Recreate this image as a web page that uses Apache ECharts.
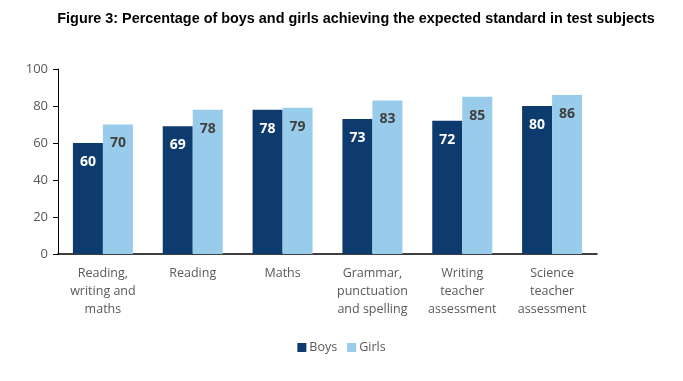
<!DOCTYPE html>
<html><head><meta charset="utf-8">
<script src="https://cdn.jsdelivr.net/npm/echarts@6/dist/echarts.min.js"></script>
<style>html,body{margin:0;padding:0;background:#fff}#c{width:683px;height:381px}</style>
</head><body><div id="c"></div>
<script>
const categories = ["Reading,\nwriting and\nmaths","Reading","Maths","Grammar,\npunctuation\nand spelling","Writing\nteacher\nassessment","Science\nteacher\nassessment"];
const boys = [60,69,78,73,72,80];
const girls = [70,78,79,83,85,86];
const yTicks = {min:0,max:100,interval:20};
const font = "Open Sans";
const chart = echarts.init(document.getElementById('c'));
chart.setOption({
  animation:false,
  title:{text:"Figure 3: Percentage of boys and girls achieving the expected standard in test subjects",
    left:351,top:7,textAlign:'center',
    textStyle:{fontFamily:'Liberation Sans',fontWeight:'bold',fontSize:14.4,color:'#000'}},
  grid:{left:58,right:86,top:69,bottom:127},
  legend:{bottom:22,left:'center',itemWidth:9,itemHeight:9,itemGap:10,icon:'rect',
    textStyle:{fontFamily:font,fontSize:12.5,color:'#595959',padding:[0,0,0,-2]},data:['Boys','Girls']},
  xAxis:{type:'category',data:categories,
    axisLine:{lineStyle:{color:'#000',width:1.5}},axisTick:{show:false},
    axisLabel:{fontFamily:font,fontSize:12.5,color:'#595959',lineHeight:18,margin:10,interval:0}},
  yAxis:{type:'value',min:yTicks.min,max:yTicks.max,interval:yTicks.interval,
    splitLine:{show:false},
    axisLine:{show:true,lineStyle:{color:'#000',width:1}},
    axisTick:{show:true,length:5,lineStyle:{color:'#000'}},
    axisLabel:{fontFamily:font,fontSize:13,color:'#595959',margin:10}},
  series:[
    {name:'Boys',type:'bar',data:boys,barWidth:30,barGap:'0%',
     itemStyle:{color:'#0e3b6d'},
     label:{show:true,position:'insideTop',distance:12,color:'#fff',fontFamily:font,fontSize:14,fontWeight:'bold'}},
    {name:'Girls',type:'bar',data:girls,barWidth:30,
     itemStyle:{color:'#99cbea'},
     label:{show:true,position:'insideTop',distance:12,color:'#404040',fontFamily:font,fontSize:14,fontWeight:'bold'}}
  ]
});
</script></body></html>
